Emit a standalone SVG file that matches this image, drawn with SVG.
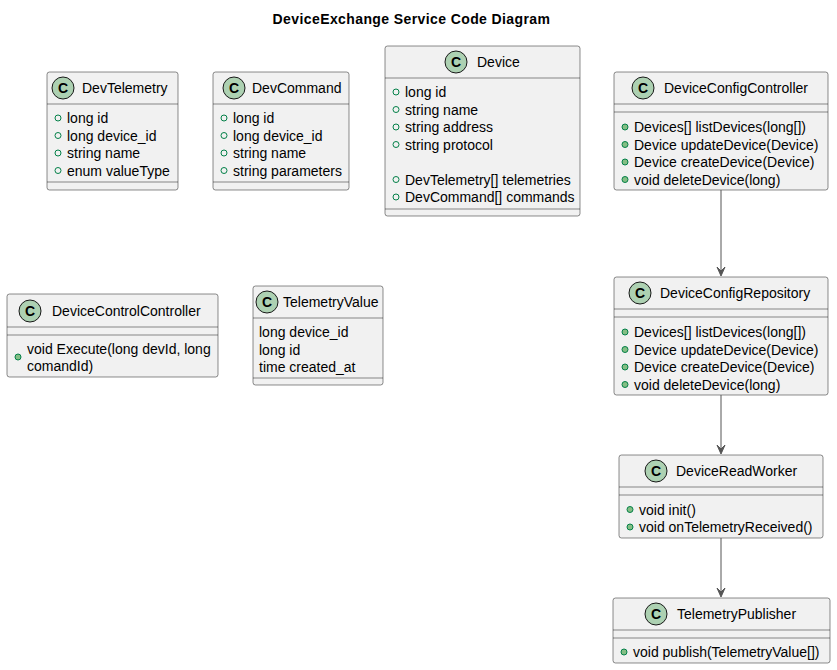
<svg xmlns="http://www.w3.org/2000/svg" width="837" height="670" viewBox="0 0 837 670">
<defs>
<style>
text{font-family:"Liberation Sans",Arial,sans-serif;font-size:14px;fill:#000}
.title{font-weight:bold;font-size:14px;letter-spacing:0.4px}
.box{fill:#F1F1F1;stroke:#181818;stroke-width:0.5}
.sep{stroke:#181818;stroke-width:0.5}
.ic{fill:#ADD1B2;stroke:#181818;stroke-width:1}
.ict{font-weight:bold;font-size:14px;text-anchor:middle}
.fld{fill:none;stroke:#038048;stroke-width:1}
.mth{fill:#84BE84;stroke:#038048;stroke-width:1}
.conn{stroke:#555;stroke-width:1;fill:none}
.head{fill:#555;stroke:#555;stroke-width:1}
</style>
</defs>
<rect width="837" height="670" fill="#FFFFFF"/>
<text class="title" x="411.5" y="24" text-anchor="middle">DeviceExchange Service Code Diagram</text>

<g id="DevTelemetry">
<rect class="box" x="47" y="72" width="131" height="118" rx="2.5"/>
<circle class="ic" cx="63" cy="88" r="11"/><text class="ict" x="63" y="93">C</text>
<text x="82" y="93">DevTelemetry</text>
<line class="sep" x1="47" y1="104" x2="178" y2="104"/>
<circle class="fld" cx="58" cy="118" r="3"/><text x="67" y="123">long id</text>
<circle class="fld" cx="58" cy="135.5" r="3"/><text x="67" y="140.5">long device_id</text>
<circle class="fld" cx="58" cy="153" r="3"/><text x="67" y="158">string name</text>
<circle class="fld" cx="58" cy="170.5" r="3"/><text x="67" y="175.5">enum valueType</text>
<line class="sep" x1="47" y1="182" x2="178" y2="182"/>
</g>

<g id="DevCommand">
<rect class="box" x="213" y="72" width="136" height="118" rx="2.5"/>
<circle class="ic" cx="234" cy="88" r="11"/><text class="ict" x="234" y="93">C</text>
<text x="252" y="93">DevCommand</text>
<line class="sep" x1="213" y1="104" x2="349" y2="104"/>
<circle class="fld" cx="224" cy="118" r="3"/><text x="233" y="123">long id</text>
<circle class="fld" cx="224" cy="135.5" r="3"/><text x="233" y="140.5">long device_id</text>
<circle class="fld" cx="224" cy="153" r="3"/><text x="233" y="158">string name</text>
<circle class="fld" cx="224" cy="170.5" r="3"/><text x="233" y="175.5">string parameters</text>
<line class="sep" x1="213" y1="182" x2="349" y2="182"/>
</g>

<g id="Device">
<rect class="box" x="385" y="46" width="195" height="170" rx="2.5"/>
<circle class="ic" cx="456" cy="62" r="11"/><text class="ict" x="456" y="67">C</text>
<text x="477" y="67">Device</text>
<line class="sep" x1="385" y1="78" x2="580" y2="78"/>
<circle class="fld" cx="396" cy="92" r="3"/><text x="405" y="97">long id</text>
<circle class="fld" cx="396" cy="109.5" r="3"/><text x="405" y="114.5">string name</text>
<circle class="fld" cx="396" cy="127" r="3"/><text x="405" y="132">string address</text>
<circle class="fld" cx="396" cy="144.5" r="3"/><text x="405" y="149.5">string protocol</text>
<circle class="fld" cx="396" cy="179.5" r="3"/><text x="405" y="184.5">DevTelemetry[] telemetries</text>
<circle class="fld" cx="396" cy="197" r="3"/><text x="405" y="202">DevCommand[] commands</text>
<line class="sep" x1="385" y1="209" x2="580" y2="209"/>
</g>

<g id="DeviceConfigController">
<rect class="box" x="614" y="72" width="214" height="118" rx="2.5"/>
<circle class="ic" cx="643" cy="88" r="11"/><text class="ict" x="643" y="93">C</text>
<text x="664" y="93">DeviceConfigController</text>
<line class="sep" x1="614" y1="104" x2="828" y2="104"/>
<line class="sep" x1="614" y1="112" x2="828" y2="112"/>
<circle class="mth" cx="625" cy="127" r="3"/><text x="634" y="132">Devices[] listDevices(long[])</text>
<circle class="mth" cx="625" cy="144.5" r="3"/><text x="634" y="149.5">Device updateDevice(Device)</text>
<circle class="mth" cx="625" cy="162" r="3"/><text x="634" y="167">Device createDevice(Device)</text>
<circle class="mth" cx="625" cy="179.5" r="3"/><text x="634" y="184.5">void deleteDevice(long)</text>
</g>

<g id="DeviceControlController">
<rect class="box" x="7" y="294" width="211" height="83" rx="2.5"/>
<circle class="ic" cx="30" cy="311" r="11"/><text class="ict" x="30" y="316">C</text>
<text x="52" y="316">DeviceControlController</text>
<line class="sep" x1="7" y1="327" x2="218" y2="327"/>
<line class="sep" x1="7" y1="335" x2="218" y2="335"/>
<circle class="mth" cx="18" cy="357" r="3"/>
<text x="27" y="354">void Execute(long devId, long</text>
<text x="27" y="371">comandId)</text>
</g>

<g id="TelemetryValue">
<rect class="box" x="253" y="286" width="130" height="99" rx="2.5"/>
<circle class="ic" cx="267" cy="302" r="11"/><text class="ict" x="267" y="307">C</text>
<text x="283" y="307">TelemetryValue</text>
<line class="sep" x1="253" y1="318" x2="383" y2="318"/>
<text x="259" y="337">long device_id</text>
<text x="259" y="354.5">long id</text>
<text x="259" y="372">time created_at</text>
<line class="sep" x1="253" y1="378" x2="383" y2="378"/>
</g>

<g id="DeviceConfigRepository">
<rect class="box" x="614" y="277" width="214" height="118" rx="2.5"/>
<circle class="ic" cx="640" cy="293" r="11"/><text class="ict" x="640" y="298">C</text>
<text x="660" y="298">DeviceConfigRepository</text>
<line class="sep" x1="614" y1="309" x2="828" y2="309"/>
<line class="sep" x1="614" y1="317" x2="828" y2="317"/>
<circle class="mth" cx="625" cy="332" r="3"/><text x="634" y="337">Devices[] listDevices(long[])</text>
<circle class="mth" cx="625" cy="349.5" r="3"/><text x="634" y="354.5">Device updateDevice(Device)</text>
<circle class="mth" cx="625" cy="367" r="3"/><text x="634" y="372">Device createDevice(Device)</text>
<circle class="mth" cx="625" cy="384.5" r="3"/><text x="634" y="389.5">void deleteDevice(long)</text>
</g>

<g id="DeviceReadWorker">
<rect class="box" x="619" y="455" width="204" height="83" rx="2.5"/>
<circle class="ic" cx="656" cy="471" r="11"/><text class="ict" x="656" y="476">C</text>
<text x="676" y="476">DeviceReadWorker</text>
<line class="sep" x1="619" y1="487" x2="823" y2="487"/>
<line class="sep" x1="619" y1="495" x2="823" y2="495"/>
<circle class="mth" cx="630" cy="509.5" r="3"/><text x="639" y="514.5">void init()</text>
<circle class="mth" cx="630" cy="527" r="3"/><text x="639" y="532">void onTelemetryReceived()</text>
</g>

<g id="TelemetryPublisher">
<rect class="box" x="613" y="598" width="217" height="65" rx="2.5"/>
<circle class="ic" cx="656" cy="614" r="11"/><text class="ict" x="656" y="619">C</text>
<text x="677" y="619">TelemetryPublisher</text>
<line class="sep" x1="613" y1="630" x2="830" y2="630"/>
<line class="sep" x1="613" y1="638" x2="830" y2="638"/>
<circle class="mth" cx="624" cy="652" r="3"/><text x="633" y="657">void publish(TelemetryValue[])</text>
</g>

<g id="connectors">
<path class="conn" d="M721,190 L721,271"/>
<polygon class="head" points="717,267 721,276 725,267 721,271"/>
<path class="conn" d="M721,395 L721,449"/>
<polygon class="head" points="717,445 721,454 725,445 721,449"/>
<path class="conn" d="M721,538 L721,592"/>
<polygon class="head" points="717,588 721,597 725,588 721,592"/>
</g>
</svg>
